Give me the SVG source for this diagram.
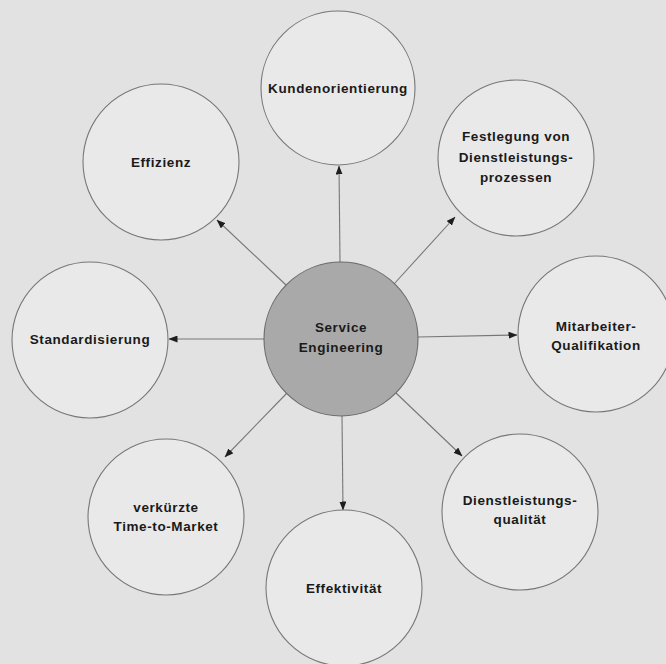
<svg xmlns="http://www.w3.org/2000/svg" width="666" height="664" viewBox="0 0 666 664">
  <defs>
    <marker id="arrow" markerUnits="userSpaceOnUse" markerWidth="9" markerHeight="7" refX="8.5" refY="3.5" orient="auto">
      <path d="M0,0 L9,3.5 L0,7 z" fill="#1e1e1e"/>
    </marker>
  </defs>
  <style>
    .node circle { fill: #e9e9e9; stroke: #777; stroke-width: 1.1; }
    #center circle { fill: #a9a9a9; stroke: #6a6a6a; }
    .node text { font-family: "Liberation Sans", Arial, sans-serif; font-weight: bold; font-size: 13.5px; letter-spacing: 0.6px; fill: #1a1a1a; text-anchor: middle; }
    #connectors line { stroke: #777; stroke-width: 1.1; marker-end: url(#arrow); }
  </style>
  <rect width="666" height="664" fill="#e2e2e2"/>

  <g id="connectors">
    <line x1="340" y1="262" x2="339" y2="166"/>
    <line x1="342" y1="416" x2="343" y2="510"/>
    <line x1="264" y1="339" x2="169" y2="339"/>
    <line x1="418" y1="337" x2="517" y2="335"/>
    <line x1="286" y1="285" x2="217" y2="220"/>
    <line x1="394" y1="284" x2="455" y2="217"/>
    <line x1="287" y1="393" x2="225" y2="457"/>
    <line x1="396" y1="393" x2="462" y2="456"/>
  </g>

  <g id="center" class="node">
    <circle cx="341" cy="339" r="77"/>
    <text x="341" y="332">Service</text>
    <text x="341" y="352">Engineering</text>
  </g>
  <g id="kundenorientierung" class="node">
    <circle cx="338" cy="88" r="77"/>
    <text x="338" y="93">Kundenorientierung</text>
  </g>
  <g id="effizienz" class="node">
    <circle cx="161" cy="162" r="78"/>
    <text x="161" y="167">Effizienz</text>
  </g>
  <g id="festlegung" class="node">
    <circle cx="516" cy="158" r="78"/>
    <text x="516" y="141">Festlegung von</text>
    <text x="516" y="162">Dienstleistungs-</text>
    <text x="516" y="182">prozessen</text>
  </g>
  <g id="standardisierung" class="node">
    <circle cx="90" cy="340" r="78"/>
    <text x="90" y="344">Standardisierung</text>
  </g>
  <g id="mitarbeiter" class="node">
    <circle cx="596" cy="334" r="78"/>
    <text x="596" y="331">Mitarbeiter-</text>
    <text x="596" y="350">Qualifikation</text>
  </g>
  <g id="time-to-market" class="node">
    <circle cx="166" cy="517" r="78"/>
    <text x="166" y="512">verkürzte</text>
    <text x="166" y="531">Time-to-Market</text>
  </g>
  <g id="dienstleistungsqualitaet" class="node">
    <circle cx="520" cy="512" r="78"/>
    <text x="520" y="505">Dienstleistungs-</text>
    <text x="520" y="524">qualität</text>
  </g>
  <g id="effektivitaet" class="node">
    <circle cx="344" cy="588" r="78"/>
    <text x="344" y="593">Effektivität</text>
  </g>
</svg>
